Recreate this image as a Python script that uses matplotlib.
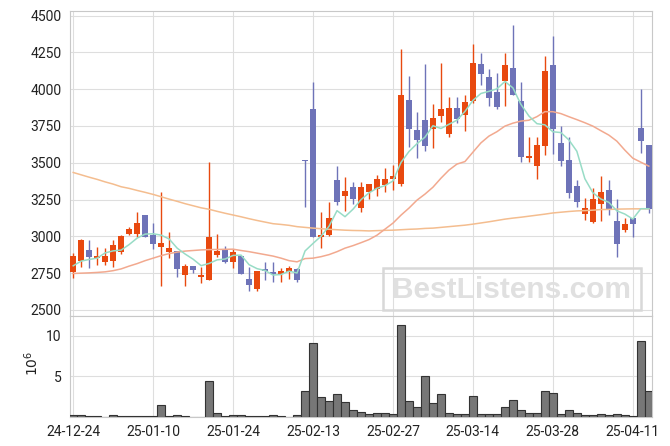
import numpy as np
import pandas as pd
import matplotlib
matplotlib.use('Agg')
import matplotlib.pyplot as plt
from matplotlib.patches import Rectangle

plt.rcParams['font.family'] = ['Roboto', 'DejaVu Sans']

# daily prices, 24-12-24 .. 25-04-15 (trading days)
opens = [2759, 2830, 2906, 2854, 2823, 2836, 2897, 3017, 3013, 3144,
         3008, 2927, 2895, 2900, 2739, 2798, 2721, 2705, 2874, 2911,
         2827, 2866, 2709, 2640, 2775, 2755, 2741, 2759, 2775, 3518,
         3864, 2997, 3008, 3382, 3275, 3332, 3190, 3298, 3319, 3348,
         3389, 3355, 3925, 3721, 3789, 3728, 3819, 3694, 3869, 3825,
         3921, 4170, 4082, 3980, 4054, 4141, 3918, 3534, 3479, 3615,
         4163, 3631, 3518, 3341, 3149, 3099, 3217, 3312, 3101, 3044,
         3122, 3733, 3620]
highs = [2888, 2979, 2974, 2929, 2918, 2974, 3008, 3067, 3164, 3144,
         3088, 3298, 3027, 2900, 2811, 2798, 2791, 3502, 3013, 2936,
         2911, 2866, 2792, 2765, 2827, 2827, 2784, 2800, 2784, 3518,
         4050, 3167, 3235, 3479, 3400, 3370, 3370, 3359, 3420, 3465,
         3484, 4270, 4090, 3846, 4168, 3896, 4175, 3944, 3944, 3957,
         4310, 4243, 4136, 4113, 4249, 4435, 4050, 3672, 3672, 4224,
         4360, 3751, 3672, 3382, 3262, 3330, 3407, 3382, 3251, 3126,
         3126, 3998, 3620]
lows = [2716, 2789, 2782, 2804, 2804, 2789, 2879, 3006, 2993, 2993,
        2913, 2664, 2850, 2725, 2666, 2748, 2683, 2705, 2857, 2816,
        2782, 2746, 2628, 2628, 2703, 2689, 2687, 2707, 2691, 3200,
        2997, 2918, 3005, 3212, 3173, 3223, 3167, 3251, 3273, 3302,
        3314, 3343, 3604, 3529, 3581, 3597, 3774, 3672, 3767, 3717,
        3903, 4025, 3887, 3862, 3887, 3961, 3502, 3502, 3393, 3552,
        3558, 3477, 3258, 3197, 3112, 3088, 3103, 3142, 2857, 3027,
        2993, 3563, 3160]
closes = [2870, 2974, 2861, 2870, 2864, 2938, 3001, 3049, 3090, 2999,
          2949, 2954, 2920, 2779, 2798, 2773, 2735, 2995, 2900, 2827,
          2895, 2746, 2670, 2765, 2764, 2741, 2764, 2784, 2703, 3512,
          2997, 3008, 3122, 3234, 3307, 3251, 3332, 3353, 3393, 3393,
          3411, 3959, 3726, 3658, 3615, 3801, 3864, 3869, 3796, 3912,
          4177, 4100, 3941, 3880, 4163, 3961, 3540, 3545, 3620, 4122,
          3726, 3513, 3296, 3234, 3190, 3251, 3298, 3183, 2945, 3081,
          3081, 3649, 3183]
# volume in millions of shares
volumes = [0.28, 0.28, 0.15, 0.15, 0, 0.28, 0.15, 0.15, 0.15, 0.15,
           0.15, 1.46, 0.15, 0.28, 0.15, 0, 0, 4.4, 0.5, 0.15,
           0.28, 0.28, 0.15, 0.15, 0.15, 0.28, 0.15, 0, 0.28, 3.2,
           9.07, 2.48, 2.0, 2.8, 1.83, 0.9, 0.6, 0.37, 0.53, 0.53,
           0.37, 11.26, 2.0, 1.26, 5.0, 1.75, 2.8, 0.53, 0.37, 0.37,
           2.56, 0.37, 0.37, 0.37, 1.26, 2.1, 0.9, 0.53, 0.53, 3.2,
           2.9, 0.37, 0.9, 0.53, 0.28, 0.28, 0.37, 0.28, 0.37, 0.28,
           0.15, 9.4, 3.2]
# moving averages (first MA5 values depend on earlier days)
ma5_head = [2800, 2832, 2843, 2852]
ma20 = [2748, 2750, 2752, 2755, 2759, 2767, 2779, 2798, 2815, 2835,
        2852, 2869, 2883, 2893, 2900, 2904, 2908, 2910, 2911, 2912,
        2913, 2904, 2896, 2886, 2876, 2866, 2852, 2835, 2827, 2849,
        2852, 2862, 2876, 2896, 2920, 2937, 2957, 2978, 3008, 3049,
        3090, 3144, 3192, 3246, 3287, 3334, 3395, 3450, 3491, 3508,
        3572, 3635, 3681, 3711, 3749, 3769, 3783, 3789, 3813, 3847,
        3847, 3834, 3813, 3793, 3772, 3749, 3718, 3688, 3647, 3586,
        3531, 3504, 3477]
ma60 = [3434, 3418, 3402, 3387, 3370, 3355, 3337, 3326, 3312, 3299,
        3285, 3269, 3253, 3238, 3222, 3208, 3194, 3184, 3170, 3157,
        3145, 3133, 3120, 3108, 3097, 3086, 3081, 3075, 3066, 3061,
        3056, 3052, 3048, 3045, 3042, 3040, 3039, 3037, 3039, 3041,
        3042, 3045, 3048, 3050, 3054, 3056, 3061, 3066, 3071, 3076,
        3083, 3091, 3099, 3108, 3117, 3124, 3130, 3137, 3144, 3151,
        3159, 3164, 3169, 3173, 3175, 3178, 3182, 3183, 3185, 3186,
        3187, 3187, 3187]
tick_labels = ['24-12-24', '25-01-10', '25-01-24', '25-02-13',
               '25-02-27', '25-03-14', '25-03-28', '25-04-11']

df = pd.DataFrame({'open': opens, 'high': highs, 'low': lows,
                   'close': closes, 'vol': volumes})
x = np.arange(len(df))
ma5 = df['close'].rolling(5).mean().values
ma5[:len(ma5_head)] = ma5_head

UP = '#e8490f'
DOWN = '#6e73b8'
GRID = '#dedede'
SPINE = '#c8c8c8'

fig = plt.figure(figsize=(6.7, 4.46), dpi=100)
ax = fig.add_axes([70/670, 1-316/446, 582/670, 305/446])
axv = fig.add_axes([70/670, 1-417/446, 582/670, 101/446], sharex=ax)

up = df['close'] >= df['open']
colors = np.where(up, UP, DOWN)
body_lo = np.minimum(df['open'], df['close'])
body_h = np.maximum((df['close'] - df['open']).abs(), 4)

ax.vlines(x, df['low'], df['high'], colors=colors, linewidth=1.0, zorder=3)
ax.bar(x, body_h, bottom=body_lo, width=0.72, color=colors, linewidth=0, zorder=4)

ax.plot(x, ma60, color='#f4bd8f', linewidth=1.1, zorder=5)
ax.plot(x, ma20, color='#f2a98f', linewidth=1.1, zorder=5)
ax.plot(x, ma5, color='#98dcc6', linewidth=1.1, zorder=5)

ax.set_xlim(-0.4, 72.4)
ax.set_ylim(2459, 4531)
ax.set_yticks(np.arange(2500, 4501, 250))
ax.set_xticks(np.arange(0, 73, 10))
ax.tick_params(axis='x', labelbottom=False, length=0)
ax.tick_params(axis='y', length=0, pad=6, labelsize=10, labelcolor='#222222')

axv.bar(x, df['vol'], width=1.0, color='#777777', edgecolor='#333333',
        linewidth=0.8, zorder=3)
axv.set_ylim(0, 12.42)
axv.set_yticks([5, 10])
axv.set_xticks(np.arange(0, 73, 10))
axv.set_xticklabels(tick_labels)
axv.tick_params(length=0, pad=6, labelsize=10, labelcolor='#222222')

for a in (ax, axv):
    a.grid(True, color=GRID, linewidth=0.8, zorder=0)
    a.set_axisbelow(True)
    for s in a.spines.values():
        s.set_color(SPINE)
        s.set_linewidth(0.8)

fig.text(32/670, 1-363/446, r'$10^{6}$', rotation=90, ha='center',
         va='center', fontsize=10, color='#222222')

# watermark
fig.add_artist(Rectangle((383/670, 1-310/446), 258/670, 42/446,
                         transform=fig.transFigure, fill=False,
                         edgecolor='#d8d8d8', linewidth=1.8, zorder=10))
fig.text(511/670, 1-290/446, 'BestListens.com', ha='center', va='center',
         fontsize=21.5, fontweight='bold', family='Liberation Sans',
         color='#e0e0e0', zorder=11)

fig.savefig('out.png', dpi=100)
